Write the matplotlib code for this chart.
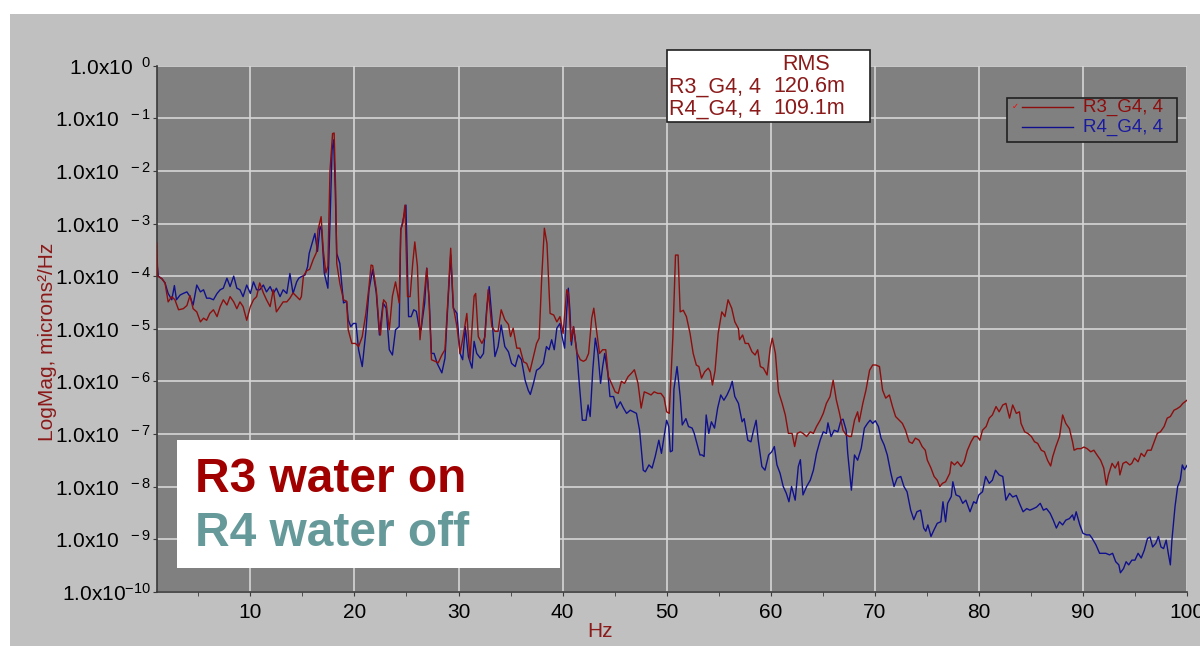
import numpy as np
import matplotlib
matplotlib.use("Agg")
import matplotlib.pyplot as plt
from matplotlib.patches import Rectangle
from matplotlib.ticker import FixedLocator, FuncFormatter, MultipleLocator

plt.rcParams["font.family"] = ["Liberation Sans", "DejaVu Sans"]

# Spectrum R3_G4 (water on): frequency (Hz) and log10 of PSD (microns^2/Hz)
r3_hz = [1.0, 1.1, 1.5, 1.8, 2.1, 2.45, 2.75, 3.1, 3.55, 3.9, 4.2, 4.5, 4.85, 5.2, 5.5, 5.8, 6.1, 6.45, 6.8, 7.1,
         7.4, 7.75, 8.05, 8.4, 8.7, 9.0, 9.3, 9.65, 10.0, 10.3, 10.6, 10.9, 11.25, 11.55, 11.9, 12.2, 12.5, 12.85,
         13.15, 13.5, 13.8, 14.1, 14.45, 14.75, 14.9, 15.1, 15.4, 15.7, 16.05, 16.35, 16.5, 16.8, 17.0, 17.25,
         17.45, 17.65, 17.9, 18.05, 18.2, 18.3, 18.6, 18.95, 19.25, 19.4, 19.75, 20.1, 20.4, 20.75, 21.1, 21.4,
         21.6, 21.75, 22.1, 22.4, 22.5, 22.8, 23.05, 23.35, 23.65, 23.95, 24.3, 24.45, 24.65, 24.85, 25.1, 25.35,
         25.6, 25.8, 26.05, 26.3, 26.6, 26.95, 27.15, 27.4, 27.75, 28.05, 28.4, 28.7, 29.0, 29.25, 29.5, 29.85,
         30.15, 30.45, 30.8, 31.1, 31.5, 31.65, 31.9, 32.25, 32.55, 32.85, 33.2, 33.5, 33.8, 34.1, 34.45, 34.8,
         35.0, 35.25, 35.6, 35.9, 36.25, 36.55, 36.85, 37.2, 37.5, 37.75, 38.0, 38.25, 38.5, 38.8, 39.15, 39.45,
         39.75, 40.05, 40.4, 40.55, 40.8, 41.05, 41.35, 41.7, 42.0, 42.25, 42.5, 42.8, 43.0, 43.3, 43.55, 43.85,
         44.15, 44.4, 44.7, 45.05, 45.35, 45.65, 45.95, 46.3, 46.6, 46.9, 47.25, 47.55, 47.85, 48.2, 48.5, 48.8,
         49.15, 49.45, 49.75, 50.0, 50.25, 50.6, 50.85, 51.1, 51.3, 51.6, 51.9, 52.25, 52.55, 52.85, 53.1, 53.35,
         53.65, 54.0, 54.2, 54.4, 54.65, 54.95, 55.3, 55.6, 55.9, 56.25, 56.55, 56.9, 57.0, 57.3, 57.55, 57.85,
         58.2, 58.5, 58.75, 59.0, 59.3, 59.65, 59.95, 60.15, 60.45, 60.75, 61.1, 61.4, 61.7, 62.05, 62.3, 62.55,
         62.85, 63.1, 63.45, 63.8, 64.1, 64.4, 64.75, 65.05, 65.35, 65.7, 66.0, 66.3, 66.6, 66.95, 67.25, 67.55,
         67.75, 68.05, 68.35, 68.5, 68.85, 69.15, 69.5, 69.8, 70.1, 70.45, 70.75, 71.05, 71.4, 71.7, 72.0, 72.35,
         72.65, 72.95, 73.3, 73.6, 73.9, 74.25, 74.55, 74.85, 75.05, 75.4, 75.7, 76.0, 76.25, 76.5, 76.8, 77.2,
         77.35, 77.65, 77.95, 78.3, 78.6, 78.9, 79.25, 79.55, 79.85, 80.1, 80.35, 80.7, 81.0, 81.3, 81.65, 81.95,
         82.3, 82.6, 82.95, 83.25, 83.6, 83.9, 84.05, 84.4, 84.7, 85.05, 85.35, 85.65, 86.0, 86.3, 86.6, 86.9,
         87.1, 87.4, 87.75, 88.05, 88.35, 88.7, 89.0, 89.15, 89.45, 89.8, 90.1, 90.4, 90.75, 91.05, 91.35, 91.7,
         92.0, 92.25, 92.45, 92.8, 93.1, 93.4, 93.55, 93.85, 94.15, 94.5, 94.7, 94.95, 95.3, 95.6, 95.9, 96.2,
         96.55, 96.85, 97.15, 97.45, 97.8, 98.1, 98.4, 98.75, 99.05, 99.35, 99.6, 100.0]
r3_exp = [-3.37, -4.0, -4.05, -4.13, -4.49, -4.39, -4.45, -4.64, -4.62, -4.56, -4.37, -4.62, -4.68, -4.87, -4.80,
          -4.84, -4.71, -4.64, -4.77, -4.58, -4.45, -4.55, -4.39, -4.49, -4.62, -4.49, -4.58, -4.84, -4.58, -4.45,
          -4.39, -4.13, -4.32, -4.45, -4.58, -4.26, -4.68, -4.58, -4.49, -4.49, -4.42, -4.32, -4.39, -4.45, -4.39,
          -4.0, -3.9, -3.87, -3.68, -3.55, -3.12, -2.87, -3.49, -3.94, -3.81, -2.0, -1.29, -1.28, -2.4, -3.76,
          -4.14, -4.45, -4.48, -5.02, -5.28, -5.28, -5.34, -5.15, -4.71, -4.20, -3.79, -3.80, -4.26, -5.02, -5.12,
          -4.45, -4.51, -5.02, -4.38, -4.11, -4.51, -3.12, -3.0, -2.65, -4.39, -4.39, -3.76, -3.35, -3.81, -5.21,
          -4.58, -3.85, -4.38, -5.59, -5.62, -5.65, -5.50, -5.40, -4.38, -3.47, -4.58, -4.96, -5.47, -5.15, -4.71,
          -5.59, -4.38, -4.33, -5.15, -5.28, -5.15, -4.26, -4.96, -5.05, -5.05, -4.64, -4.83, -4.92, -5.15, -4.99,
          -5.37, -5.37, -5.63, -5.66, -5.82, -5.53, -5.28, -5.18, -4.01, -3.09, -3.38, -4.71, -4.74, -4.87, -4.77,
          -5.09, -4.26, -4.32, -5.24, -4.96, -5.44, -5.59, -5.62, -5.59, -5.47, -4.80, -4.61, -5.09, -5.47, -5.40,
          -5.40, -5.91, -6.04, -6.20, -6.23, -6.0, -6.04, -5.91, -5.85, -5.78, -6.04, -6.51, -6.20, -6.23, -6.26,
          -6.20, -6.23, -6.23, -6.31, -6.58, -6.61, -5.15, -3.60, -3.60, -4.68, -4.65, -4.77, -5.09, -5.47, -5.69,
          -5.72, -5.94, -5.82, -5.75, -5.82, -6.07, -5.80, -5.09, -4.68, -4.77, -4.45, -4.61, -4.87, -5.0, -5.21,
          -5.12, -5.28, -5.28, -5.44, -5.50, -5.40, -5.72, -5.75, -5.88, -5.37, -5.18, -5.47, -6.20, -6.42, -6.64,
          -6.99, -6.99, -7.24, -6.99, -6.96, -6.99, -7.05, -6.96, -6.99, -6.86, -6.74, -6.61, -6.42, -6.29, -5.98,
          -6.35, -6.60, -6.93, -7.02, -7.05, -7.05, -6.74, -6.58, -6.77, -6.42, -6.17, -5.79, -5.69, -5.69, -5.72,
          -6.17, -6.32, -6.26, -6.48, -6.67, -6.74, -6.80, -6.93, -7.15, -7.18, -7.08, -7.12, -7.24, -7.31, -7.50,
          -7.65, -7.81, -7.88, -8.0, -7.94, -7.91, -7.75, -7.53, -7.59, -7.53, -7.62, -7.53, -7.31, -7.15, -7.05,
          -7.05, -7.12, -6.93, -6.86, -6.70, -6.64, -6.48, -6.58, -6.45, -6.42, -6.70, -6.45, -6.61, -6.58, -6.80,
          -6.96, -6.99, -7.05, -7.15, -7.18, -7.31, -7.34, -7.50, -7.61, -7.43, -7.24, -7.05, -6.64, -6.80, -6.90,
          -7.15, -7.31, -7.28, -7.28, -7.25, -7.28, -7.34, -7.31, -7.40, -7.50, -7.65, -7.97, -7.78, -7.56, -7.65,
          -7.53, -7.78, -7.56, -7.53, -7.59, -7.56, -7.46, -7.53, -7.37, -7.43, -7.31, -7.31, -7.15, -6.99, -6.96,
          -6.86, -6.70, -6.67, -6.55, -6.52, -6.48, -6.42, -6.36]

# Spectrum R4_G4 (water off)
r4_hz = [1.0, 1.15, 1.5, 1.8, 2.1, 2.45, 2.7, 2.9, 3.25, 3.55, 3.9, 4.2, 4.5, 4.85, 5.2, 5.5, 5.8, 6.1, 6.45, 6.8,
         7.1, 7.4, 7.75, 8.05, 8.4, 8.7, 9.0, 9.3, 9.65, 10.0, 10.3, 10.6, 10.9, 11.25, 11.55, 11.9, 12.2, 12.5,
         12.85, 13.15, 13.5, 13.8, 14.1, 14.45, 14.65, 14.9, 15.25, 15.5, 15.65, 15.9, 16.2, 16.45, 16.7, 16.85,
         17.1, 17.45, 17.65, 17.85, 18.0, 18.15, 18.3, 18.6, 18.95, 19.25, 19.4, 19.65, 19.9, 20.15, 20.4, 20.75,
         21.1, 21.4, 21.75, 22.1, 22.4, 22.75, 23.05, 23.35, 23.65, 23.95, 24.3, 24.45, 24.75, 24.95, 25.2, 25.45,
         25.7, 25.95, 26.2, 26.4, 26.75, 26.95, 27.2, 27.4, 27.65, 27.95, 28.4, 28.7, 29.0, 29.25, 29.5, 29.85,
         30.15, 30.4, 30.65, 30.95, 31.3, 31.5, 31.75, 32.1, 32.4, 32.7, 32.95, 33.2, 33.5, 33.8, 34.1, 34.45,
         34.8, 35.1, 35.45, 35.75, 36.05, 36.4, 36.7, 36.9, 37.2, 37.5, 37.8, 38.15, 38.45, 38.7, 38.95, 39.2,
         39.45, 39.75, 39.95, 40.2, 40.4, 40.55, 40.7, 40.85, 41.05, 41.35, 41.55, 41.9, 42.25, 42.45, 42.65, 42.9,
         43.15, 43.4, 43.65, 43.85, 44.05, 44.35, 44.55, 44.9, 45.2, 45.55, 45.85, 46.15, 46.5, 46.8, 47.1, 47.4,
         47.75, 47.95, 48.3, 48.6, 48.9, 49.25, 49.5, 49.75, 50.0, 50.2, 50.35, 50.55, 50.7, 51.0, 51.3, 51.5,
         51.85, 52.1, 52.45, 52.65, 52.95, 53.2, 53.4, 53.6, 53.8, 54.05, 54.3, 54.6, 54.9, 55.2, 55.5, 55.8, 56.1,
         56.3, 56.55, 56.9, 57.25, 57.45, 57.8, 58.1, 58.35, 58.6, 58.8, 59.15, 59.45, 59.8, 60.1, 60.35, 60.6,
         60.9, 61.2, 61.5, 61.75, 62.0, 62.35, 62.65, 62.85, 63.1, 63.45, 63.8, 64.1, 64.4, 64.75, 65.05, 65.35,
         65.5, 65.8, 66.1, 66.45, 66.75, 66.95, 67.25, 67.4, 67.75, 68.05, 68.35, 68.7, 69.0, 69.3, 69.55, 69.8,
         70.05, 70.35, 70.6, 70.9, 71.2, 71.55, 71.85, 72.15, 72.5, 72.8, 73.1, 73.45, 73.75, 74.05, 74.4, 74.7,
         74.9, 75.1, 75.4, 75.7, 76.0, 76.35, 76.55, 76.8, 77.0, 77.35, 77.5, 77.8, 78.15, 78.45, 78.75, 79.15,
         79.5, 79.75, 80.0, 80.35, 80.65, 81.0, 81.3, 81.6, 81.95, 82.3, 82.6, 82.95, 83.25, 83.6, 83.9, 84.25,
         84.6, 84.9, 85.25, 85.55, 85.9, 86.2, 86.5, 86.85, 87.15, 87.45, 87.75, 88.05, 88.35, 88.7, 89.0, 89.15,
         89.35, 89.7, 90.0, 90.35, 90.65, 90.9, 91.25, 91.6, 91.9, 92.2, 92.55, 92.85, 93.15, 93.45, 93.6, 93.9,
         94.15, 94.4, 94.7, 95.0, 95.3, 95.6, 95.9, 96.2, 96.45, 96.7, 97.0, 97.25, 97.5, 97.75, 98.0, 98.2, 98.4,
         98.55, 98.85, 99.1, 99.35, 99.55, 99.75, 100.0]
r4_exp = [-3.69, -4.0, -4.05, -4.13, -4.33, -4.45, -4.18, -4.45, -4.36, -4.33, -4.30, -4.39, -4.55, -4.17, -4.30,
          -4.26, -4.42, -4.42, -4.45, -4.33, -4.26, -4.23, -4.04, -4.20, -4.0, -4.23, -4.26, -4.39, -4.17, -4.33,
          -4.11, -4.26, -4.26, -4.17, -4.30, -4.20, -4.33, -4.23, -4.39, -4.26, -4.33, -3.95, -4.33, -4.11, -4.04,
          -4.01, -3.98, -3.82, -3.57, -3.40, -3.19, -3.53, -3.06, -3.12, -3.94, -4.23, -3.0, -1.6, -1.41, -2.3,
          -3.57, -3.76, -4.51, -4.48, -4.83, -4.96, -4.90, -4.90, -5.40, -5.72, -5.05, -4.26, -3.88, -4.32, -5.12,
          -4.51, -4.61, -5.40, -5.50, -5.02, -4.96, -3.12, -2.87, -2.65, -4.77, -4.77, -4.64, -4.67, -4.96, -5.02,
          -4.51, -3.85, -4.51, -5.47, -5.47, -5.66, -5.84, -5.56, -4.45, -3.60, -4.61, -4.71, -5.47, -5.59, -4.96,
          -5.53, -5.75, -5.24, -5.47, -5.56, -5.47, -4.64, -4.20, -4.77, -5.53, -5.34, -4.93, -5.34, -5.44, -5.66,
          -5.72, -5.50, -5.59, -5.98, -6.17, -6.25, -6.04, -5.79, -5.75, -5.66, -5.34, -5.40, -5.21, -5.40, -4.99,
          -4.90, -5.15, -5.37, -4.64, -4.23, -4.64, -5.31, -4.96, -5.40, -5.91, -6.74, -6.74, -6.45, -6.67, -5.79,
          -5.18, -5.47, -6.04, -5.72, -5.47, -5.85, -6.29, -6.29, -6.51, -6.39, -6.51, -6.61, -6.55, -6.58, -6.61,
          -6.93, -7.69, -7.72, -7.59, -7.65, -7.43, -7.12, -7.37, -7.05, -6.74, -6.86, -7.34, -7.32, -6.15, -5.72,
          -6.29, -6.83, -6.71, -6.86, -6.89, -6.99, -7.21, -7.40, -7.40, -7.43, -6.64, -6.99, -6.77, -6.89, -6.51,
          -6.26, -6.36, -6.26, -6.13, -6.0, -6.29, -6.42, -6.77, -6.71, -7.12, -7.15, -6.93, -6.74, -7.12, -7.62,
          -7.69, -7.40, -7.34, -7.24, -7.59, -7.75, -8.0, -8.13, -8.29, -8.0, -8.26, -7.62, -7.49, -8.16, -8.0,
          -7.88, -7.69, -7.37, -7.12, -6.96, -6.99, -6.79, -7.05, -6.93, -6.96, -6.74, -6.72, -6.93, -7.37, -8.07,
          -7.40, -7.50, -7.27, -6.89, -6.80, -6.74, -6.80, -6.75, -6.86, -7.08, -7.21, -7.40, -7.75, -8.0, -7.84,
          -7.81, -8.0, -8.10, -8.45, -8.63, -8.48, -8.45, -8.79, -8.85, -8.73, -8.95, -8.82, -8.70, -8.67, -8.29,
          -8.67, -8.32, -8.19, -7.91, -8.16, -8.19, -8.32, -8.26, -8.48, -8.29, -8.32, -8.16, -8.10, -7.81, -7.94,
          -7.88, -7.69, -7.78, -7.81, -8.26, -8.13, -8.20, -8.17, -8.32, -8.48, -8.42, -8.45, -8.42, -8.39, -8.32,
          -8.45, -8.42, -8.51, -8.64, -8.79, -8.67, -8.73, -8.64, -8.61, -8.54, -8.64, -8.48, -8.73, -8.89, -8.92,
          -8.92, -8.99, -9.11, -9.27, -9.27, -9.27, -9.30, -9.27, -9.43, -9.49, -9.64, -9.56, -9.43, -9.49, -9.40,
          -9.40, -9.27, -9.36, -9.21, -8.99, -8.96, -9.15, -9.08, -8.95, -9.15, -9.18, -9.02, -9.27, -9.49, -9.02,
          -8.38, -8.0, -7.88, -7.59, -7.68, -7.60]

series_names = ["R3_G4, 4", "R4_G4, 4"]
rms_values = ["120.6m", "109.1m"]
decades = list(range(-10, 1))
x_ticks = [10, 20, 30, 40, 50, 60, 70, 80, 90, 100]

red = "#8e0d0d"
blue = "#10108e"
label_red = "#8b1a1a"


def decade_label(v, pos):
    e = int(round(np.log10(v)))
    gap = "" if e == -10 else r"\ \ "
    return r"$\mathregular{1.0x10^{%s%d}}$" % (gap, e)


fig = plt.figure(figsize=(12, 6.46), dpi=100, facecolor="white")
# grey panel behind the plot
fig.patches.append(Rectangle((10 / 1200, 0), 1190 / 1200, 632 / 646, transform=fig.transFigure,
                             facecolor="#c0c0c0", edgecolor="none", zorder=-1))

ax = fig.add_axes([156.7 / 1200, 54.3 / 646, 1030.3 / 1200, 526 / 646])
ax.set_facecolor("#808080")

ax.plot(r3_hz, 10.0 ** np.array(r3_exp), color=red, lw=1.0, zorder=3)
ax.plot(r4_hz, 10.0 ** np.array(r4_exp), color=blue, lw=1.0, zorder=2)

ax.set_yscale("log")
ax.set_ylim(1e-10, 1e0)
ax.set_xlim(1, 100)

ax.yaxis.set_major_locator(FixedLocator([10.0 ** d for d in decades]))
ax.yaxis.set_major_formatter(FuncFormatter(decade_label))
ax.xaxis.set_major_locator(FixedLocator(x_ticks))
ax.xaxis.set_minor_locator(MultipleLocator(5))

ax.grid(True, which="major", color="#d6d6d6", lw=1.2)
ax.set_axisbelow(True)
for s in ["top", "right"]:
    ax.spines[s].set_visible(False)
for s in ["left", "bottom"]:
    ax.spines[s].set_color("#3a3a3a")
    ax.spines[s].set_linewidth(1.2)

ax.tick_params(axis="x", which="both", direction="out", length=3, color="#3a3a3a", labelsize=15, pad=5)
ax.tick_params(axis="y", which="major", direction="out", length=3, color="#3a3a3a", labelsize=15, pad=1)
ax.tick_params(axis="y", which="minor", direction="out", length=2, color="#3a3a3a")

ax.set_xlabel("Hz", color=label_red, fontsize=15)
ax.xaxis.set_label_coords(0.430, -0.058)
ax.set_ylabel("LogMag, microns²/Hz", color=label_red, fontsize=15)
ax.yaxis.set_label_coords(-0.097, 0.475)

# trace legend (top right, inside the plot)
ax.add_patch(Rectangle((0.8254, 0.8555), 0.1650, 0.0831, transform=ax.transAxes,
                       facecolor="#808080", edgecolor="#202020", lw=1.2, zorder=6))
for i, (name, col, tcol) in enumerate(zip(series_names, [red, blue], [red, "#1a1aa0"])):
    yy = 0.9215 - 0.0381 * i
    ax.plot([0.8399, 0.8894], [yy, yy], color=col, lw=1.0, transform=ax.transAxes, zorder=7)
    ax.text(0.8991, yy, name, color=tcol, fontsize=13.5, ha="left", va="center",
            transform=ax.transAxes, zorder=7)
ax.text(0.8335, 0.9234, "✓", color="#ff0000", fontsize=6, ha="center", va="center",
        family="DejaVu Sans", transform=ax.transAxes, zorder=7)

# RMS summary box
fig.patches.append(Rectangle((667 / 1200, (646 - 122) / 646), 203 / 1200, 72 / 646, transform=fig.transFigure,
                             facecolor="white", edgecolor="#202020", lw=1.2, zorder=5))
fig.text(806 / 1200, (646 - 64) / 646, "RMS", color=label_red, fontsize=15.5, ha="center", va="center", zorder=6)
for i, (name, rms) in enumerate(zip(series_names, rms_values)):
    yy = (646 - 87 - 22 * i) / 646
    fig.text(669 / 1200, yy, name, color=label_red, fontsize=15.5, ha="left", va="center", zorder=6)
    fig.text(773 / 1200, yy, rms, color=label_red, fontsize=15.5, ha="left", va="center", zorder=6)

# annotation box
fig.patches.append(Rectangle((177 / 1200, (646 - 568) / 646), 383 / 1200, 128 / 646, transform=fig.transFigure,
                             facecolor="white", edgecolor="none", zorder=5))
fig.text(195 / 1200, (646 - 479) / 646, "R3 water on", color="#a00000", fontsize=34.5, fontweight="bold",
         ha="left", va="center", zorder=6)
fig.text(195 / 1200, (646 - 534) / 646, "R4 water off", color="#669999", fontsize=34.5, fontweight="bold",
         ha="left", va="center", zorder=6)

fig.savefig("out.png", dpi=100, facecolor=fig.get_facecolor())
